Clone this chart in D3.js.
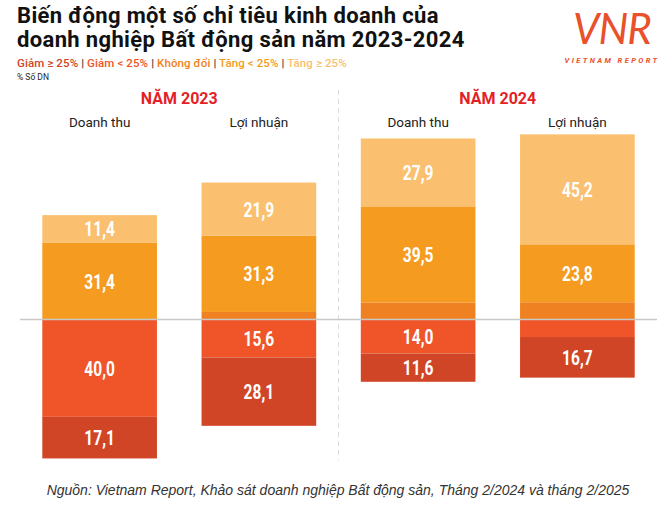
<!DOCTYPE html>
<html>
<head>
<meta charset="utf-8">
<script src="https://cdn.jsdelivr.net/npm/d3@7"></script>
<style>
  html, body { margin: 0; padding: 0; background: #fff; }
  svg { display: block; }
</style>
</head>
<body>
<div id="chart"></div>
<script>
// ---------- DATA ----------
const years = ["NĂM 2023", "NĂM 2024"];
const categories = ["Doanh thu", "Lợi nhuận", "Doanh thu", "Lợi nhuận"];
const groupOfCategory = [0, 0, 1, 1];
// % số doanh nghiệp
const giamNhieu = [17.1, 28.1, 11.6, 16.7];   // Giảm ≥ 25%
const giamIt    = [40.0, 15.6, 14.0, 7.2];    // Giảm < 25%
const khongDoi  = [0.1, 3.1, 7.0, 7.1];       // Không đổi
const tangIt    = [31.4, 31.3, 39.5, 23.8];   // Tăng < 25%
const tangNhieu = [11.4, 21.9, 27.9, 45.2];   // Tăng ≥ 25%
const legendLabels = ["Giảm ≥ 25%", "Giảm < 25%", "Không đổi", "Tăng < 25%", "Tăng ≥ 25%"];
const colors = ["#D04526", "#EF5529", "#F08123", "#F59B20", "#FBC06F"];

const W = 672, H = 507;
const svg = d3.select("#chart").append("svg").attr("width", W).attr("height", H)
  .style("font-family", "Roboto, 'Noto Sans', sans-serif");

// ---------- TITLE ----------
const title = svg.append("text").attr("x", 17).attr("fill", "#111")
  .attr("font-weight", 700).attr("font-size", 22).attr("letter-spacing", 0.35);
title.append("tspan").attr("x", 17).attr("y", 23).text("Biến động một số chỉ tiêu kinh doanh của");
title.append("tspan").attr("x", 17).attr("y", 47).text("doanh nghiệp Bất động sản năm 2023-2024");

// legend line
const leg = svg.append("text").attr("x", 17).attr("y", 67).attr("font-size", 11.5).attr("font-weight", 500)
  .attr("letter-spacing", 0.1);
legendLabels.forEach((l, i) => {
  if (i > 0) leg.append("tspan").attr("fill", "#333").text(" | ");
  leg.append("tspan").attr("fill", colors[i]).text(l);
});
svg.append("text").attr("x", 17).attr("y", 80).attr("font-size", 8.5).attr("fill", "#222").text("% Số DN");

// ---------- LOGO ----------
const logo = svg.append("g");
logo.append("text").attr("x", 612).attr("y", 44).attr("text-anchor", "middle")
  .attr("font-size", 42).attr("font-style", "italic").attr("font-weight", 400)
  .attr("fill", "#E8512B").attr("font-family", "Lato, sans-serif").attr("letter-spacing", -1).text("VNR");
logo.append("text").attr("x", 612).attr("y", 63).attr("text-anchor", "middle")
  .attr("font-size", 7.5).attr("font-style", "italic").attr("font-weight", 700)
  .attr("letter-spacing", 2.4).attr("fill", "#E8512B").text("VIETNAM REPORT");

// ---------- SCALES ----------
const x = d3.scaleBand().domain(d3.range(categories.length)).range([20, 657])
  .paddingInner(0.28).paddingOuter(0.14);
const y = d3.scaleLinear().domain([-100, 100]).range([319.5 + 243.3, 319.5 - 243.3]);

// separator
const sepX = (x(1) + x.bandwidth() + x(2)) / 2;
svg.append("line").attr("x1", sepX).attr("x2", sepX).attr("y1", 90).attr("y2", 460)
  .attr("stroke", "#ddd").attr("stroke-width", 1).attr("stroke-dasharray", "5,4");

// year headers
years.forEach((yr, g) => {
  const idx = categories.map((c, i) => i).filter(i => groupOfCategory[i] === g);
  const cx = (x(idx[0]) + x(idx[idx.length - 1]) + x.bandwidth()) / 2;
  svg.append("text").attr("x", cx).attr("y", 104).attr("text-anchor", "middle")
    .attr("font-size", 16).attr("font-weight", 700).attr("fill", "#E41F26").text(yr);
});
// category labels
categories.forEach((c, i) => {
  svg.append("text").attr("x", x(i) + x.bandwidth() / 2).attr("y", 127).attr("text-anchor", "middle")
    .attr("font-size", 13.5).attr("fill", "#222").text(c);
});

// ---------- BARS ----------
const series = [giamNhieu, giamIt, khongDoi, tangIt, tangNhieu];
categories.forEach((c, i) => {
  const segs = [];
  // negatives stacked down from 0: Giảm < 25% first, then Giảm ≥ 25%
  let neg = 0;
  [1, 0].forEach(s => { const v = series[s][i]; segs.push({ s, v, y0: neg, y1: neg - v }); neg -= v; });
  let pos = 0;
  [2, 3, 4].forEach(s => { const v = series[s][i]; segs.push({ s, v, y0: pos, y1: pos + v }); pos += v; });
  segs.forEach(d => {
    const top = y(Math.max(d.y0, d.y1)), bot = y(Math.min(d.y0, d.y1));
    svg.append("rect").attr("x", x(i)).attr("width", x.bandwidth())
      .attr("y", top).attr("height", bot - top).attr("fill", colors[d.s]);
    if (d.v >= 10) {
      const cy = (top + bot) / 2;
      svg.append("text").attr("transform", `translate(${x(i) + x.bandwidth() / 2},${cy + 7.5}) scale(0.74,1)`)
        .attr("text-anchor", "middle").attr("font-size", 21).attr("font-weight", 700)
        .attr("fill", "#fff").text(d3.format(".1f")(d.v).replace(".", ","));
    }
  });
});

// zero line
svg.append("line").attr("x1", 20).attr("x2", 657).attr("y1", y(0)).attr("y2", y(0))
  .attr("stroke", "#c8c8c8").attr("stroke-width", 1.5);

// ---------- FOOTER ----------
svg.append("text").attr("x", 338).attr("y", 495).attr("text-anchor", "middle")
  .attr("font-family", "'Liberation Sans', Arial, sans-serif").attr("font-style", "italic")
  .attr("font-size", 14).attr("fill", "#333")
  .text("Nguồn: Vietnam Report, Khảo sát doanh nghiệp Bất động sản, Tháng 2/2024 và tháng 2/2025");
</script>
</body>
</html>
